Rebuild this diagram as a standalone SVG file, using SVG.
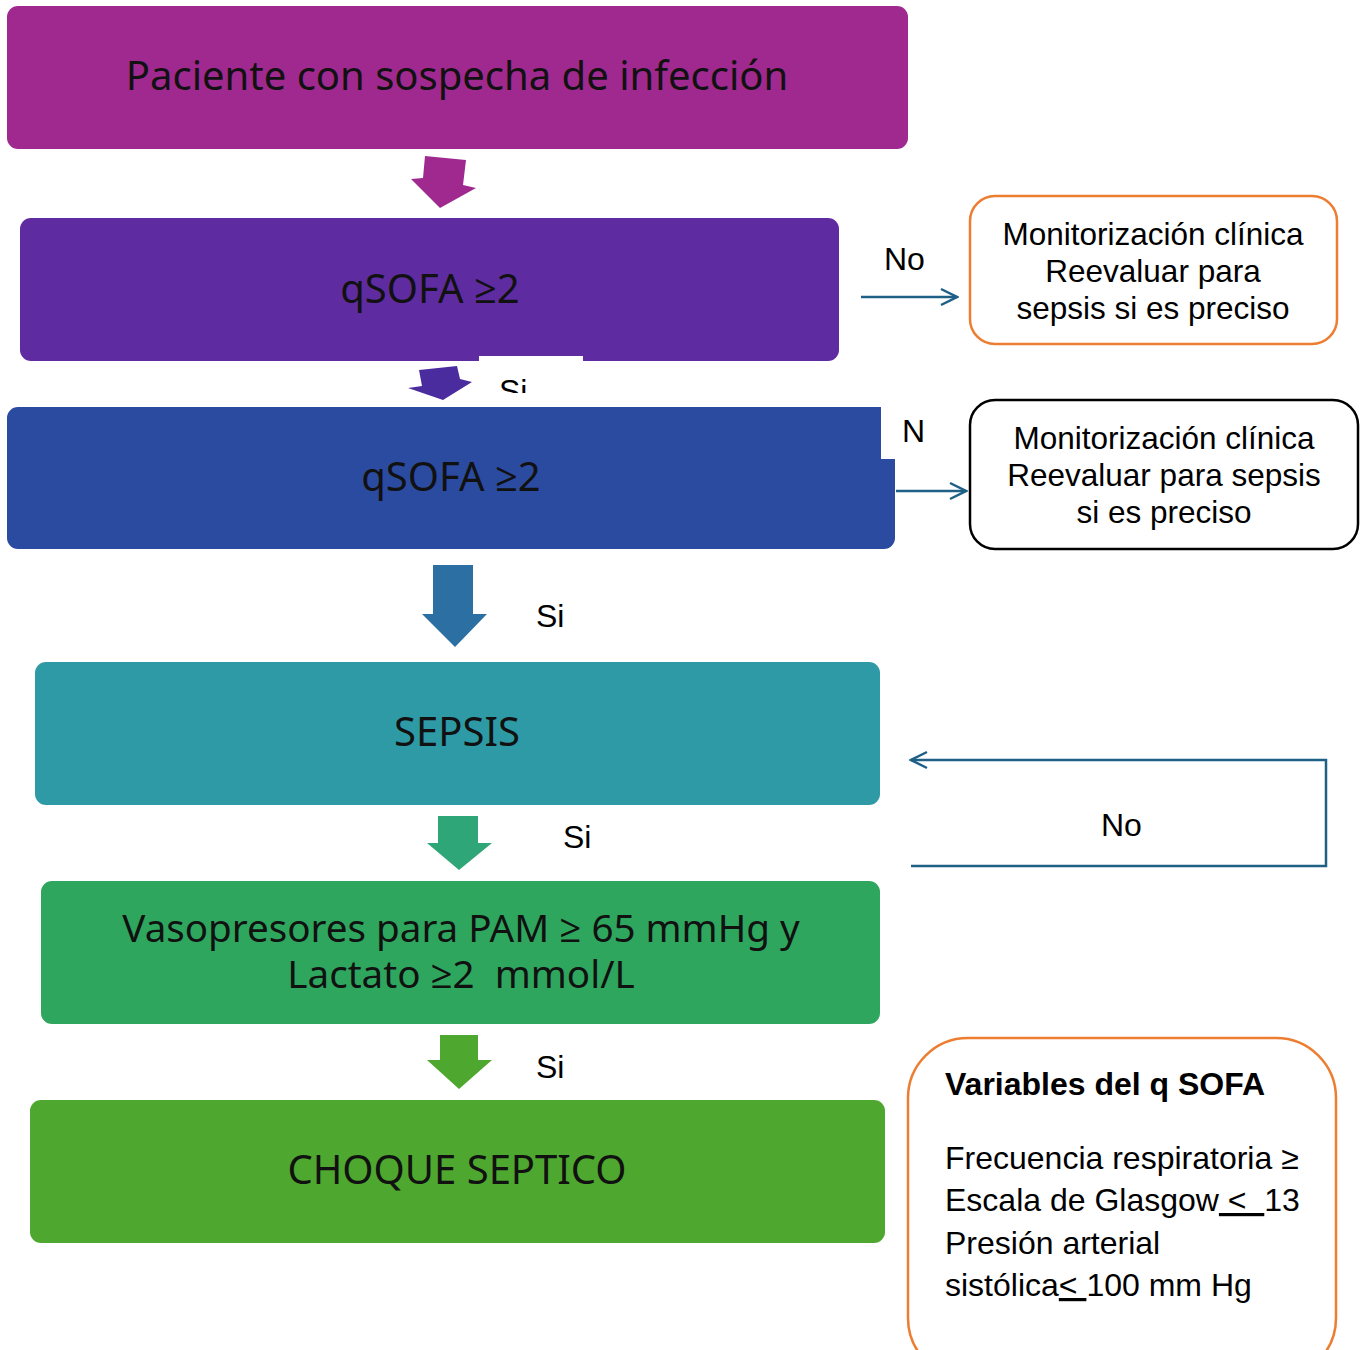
<svg xmlns="http://www.w3.org/2000/svg" width="1365" height="1350" viewBox="0 0 1365 1350">
<defs>
<style>
.main{font-family:"Noto Sans","Open Sans",sans-serif;font-size:40px;fill:#111;text-anchor:middle;white-space:pre}
.lbl{font-family:"Liberation Sans",Arial,sans-serif;font-size:32px;fill:#000;white-space:pre}
.side{font-family:"Liberation Sans",Arial,sans-serif;font-size:31.5px;fill:#000;text-anchor:middle}
.conn{fill:none;stroke:#1F6087;stroke-width:2.5}
</style>
<marker id="open" viewBox="0 0 20 20" refX="18" refY="10" markerWidth="20" markerHeight="20" markerUnits="userSpaceOnUse" orient="auto">
<path d="M2,2 L18,10 L2,18" fill="none" stroke="#1F6087" stroke-width="2.5"/>
</marker>
</defs>
<rect width="1365" height="1350" fill="#fff"/>

<g id="n1">
<rect x="7" y="6" width="901" height="143" rx="11" fill="#A0298F"/>
<text class="main" x="457" y="90">Paciente con sospecha de infección</text>
</g>

<g id="n2">
<rect x="20" y="218" width="819" height="143" rx="11" fill="#5E2CA0"/>
<text class="main" x="430" y="303">qSOFA ≥2</text>
</g>

<g id="n3">
<path d="M7,418 a11,11 0 0 1 11,-11 H881 V459 H895 V538 a11,11 0 0 1 -11,11 H18 a11,11 0 0 1 -11,-11 Z" fill="#2B4BA1"/>
<text class="main" x="451" y="491">qSOFA ≥2</text>
</g>

<g id="n4">
<rect x="35" y="662" width="845" height="143" rx="11" fill="#2E9AA5"/>
<text class="main" x="457" y="746">SEPSIS</text>
</g>

<g id="n5">
<rect x="41" y="881" width="839" height="143" rx="11" fill="#2EA65E"/>
<text class="main" x="461" y="942" style="font-size:38.6px">Vasopresores para PAM ≥ 65 mmHg y</text>
<text class="main" x="461" y="988" style="font-size:38.6px">Lactato ≥2  mmol/L</text>
</g>

<g id="n6">
<rect x="30" y="1100" width="855" height="143" rx="11" fill="#4EA72E"/>
<text class="main" x="457" y="1184">CHOQUE SEPTICO</text>
</g>

<g id="r1">
<rect x="970" y="196" width="367" height="148" rx="25" fill="#fff" stroke="#ED7D31" stroke-width="2.5"/>
<text class="side" x="1153" y="245">Monitorización clínica</text>
<text class="side" x="1153" y="282">Reevaluar para</text>
<text class="side" x="1153" y="319">sepsis si es preciso</text>
</g>

<g id="r2">
<rect x="970" y="400" width="388" height="149" rx="25" fill="#fff" stroke="#000" stroke-width="2.5"/>
<text class="side" x="1164" y="449">Monitorización clínica</text>
<text class="side" x="1164" y="486">Reevaluar para sepsis</text>
<text class="side" x="1164" y="523">si es preciso</text>
</g>

<g id="r3">
<rect x="908" y="1038" width="428" height="340" rx="60" fill="#fff" stroke="#ED7D31" stroke-width="2.5"/>
<text class="lbl" x="945" y="1095" font-weight="bold">Variables del q SOFA</text>
<text class="lbl" x="945" y="1169">Frecuencia respiratoria ≥</text>
<text class="lbl" x="945" y="1211">Escala de Glasgow<tspan text-decoration="underline"> &lt;  </tspan>13</text>
<text class="lbl" x="945" y="1254">Presión arterial</text>
<text class="lbl" x="945" y="1296">sistólica<tspan text-decoration="underline">&lt; </tspan>100 mm Hg</text>
</g>

<g id="connectors">
<polygon points="425,156 466,160 463,185 476,188 440,208 411,179 423,178" fill="#A0298F"/>
<rect x="479" y="356" width="104" height="51" fill="#fff"/>
<text class="lbl" x="499" y="402">Si</text>
<rect x="479" y="393" width="104" height="14" fill="#fff"/>
<polygon points="419,370 457,366 460,379 472,382 443,400 408,388 422,386" fill="#4B2C9E"/>
<polygon points="433,565 473,565 473,614 487,614 455,647 422,614 433,614" fill="#2C6FA3"/>
<polygon points="438,816 478,816 478,843 492,843 459,870 427,843 438,843" fill="#2EA677"/>
<polygon points="440,1035 478,1035 478,1060 492,1060 459,1089 427,1060 440,1060" fill="#4EA72E"/>
<line class="conn" x1="861" y1="297" x2="957" y2="297" marker-end="url(#open)"/>
<line class="conn" x1="896" y1="491" x2="966" y2="491" marker-end="url(#open)"/>
<polyline class="conn" points="911,866 1326,866 1326,760 911,760" marker-end="url(#open)"/>
<text class="lbl" x="884" y="270">No</text>
<text class="lbl" x="902" y="442">N</text>
<text class="lbl" x="536" y="627">Si</text>
<text class="lbl" x="563" y="848">Si</text>
<text class="lbl" x="536" y="1078">Si</text>
<text class="lbl" x="1101" y="836">No</text>
</g>
</svg>
